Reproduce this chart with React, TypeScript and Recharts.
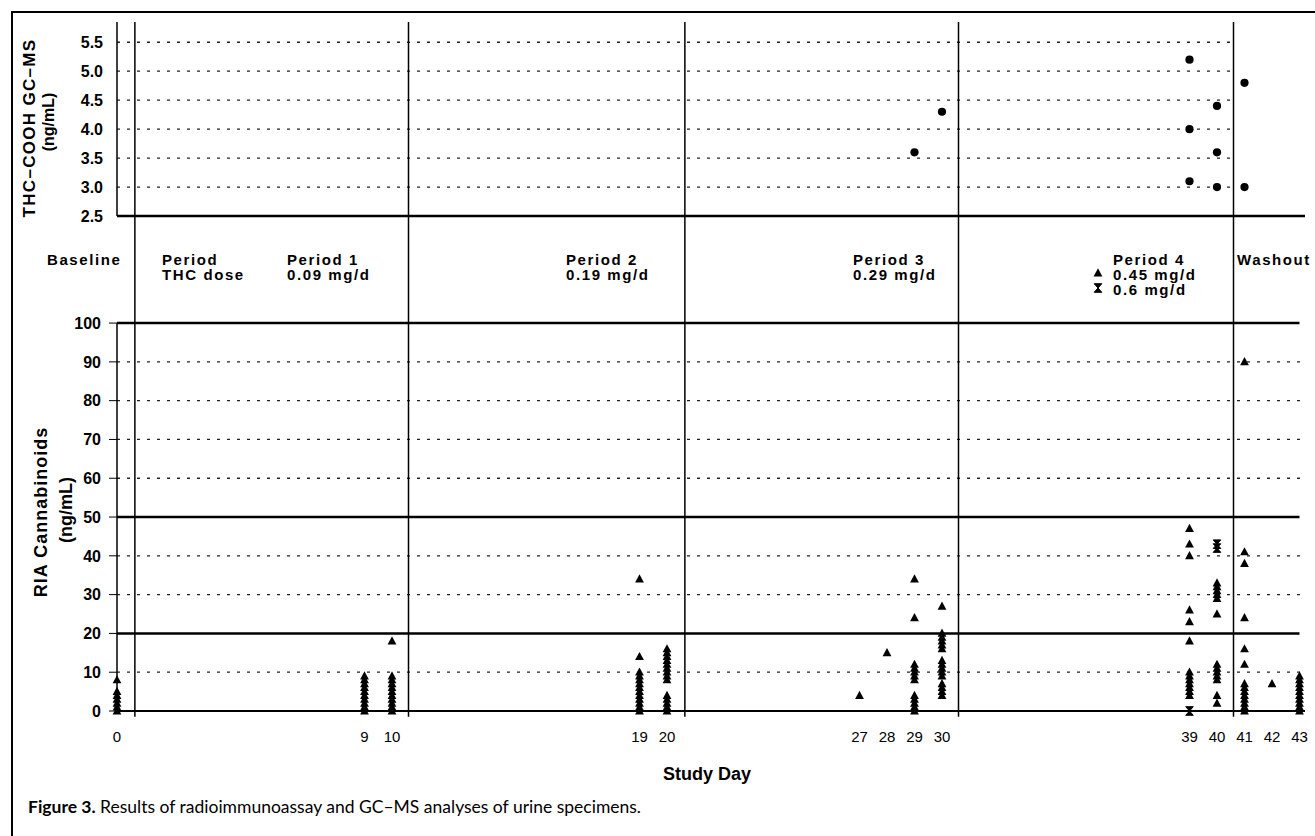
import React from 'react'
import { ScatterChart, Scatter, XAxis, YAxis, ReferenceLine } from 'recharts'

// study day tick labels
const studyDays = [0, 9, 10, 19, 20, 27, 28, 29, 30, 39, 40, 41, 42, 43]

// vertical separators between dosing periods (study days)
const periodBounds = [0.65, 10.6, 20.65, 30.6, 40.6]

// THC-COOH GC-MS (ng/mL)
const gcmsDays = [29, 30, 39, 39, 39, 40, 40, 40, 41, 41]
const gcmsValues = [3.6, 4.3, 5.2, 4.0, 3.1, 4.4, 3.6, 3.0, 4.8, 3.0]
const gcmsTicks = [2.5, 3.0, 3.5, 4.0, 4.5, 5.0, 5.5]
const gcmsGrid = [3.0, 3.5, 4.0, 4.5, 5.0, 5.5]

// RIA cannabinoids (ng/mL), one list per study day
const riaDay0 = [8, 5, 4, 3, 2, 1, 0]
const riaDay9 = [9, 8, 7, 6, 5, 4, 3, 2, 1, 0]
const riaDay10 = [18, 9, 8, 7, 6, 5, 4, 3, 2, 1, 0]
const riaDay19 = [34, 14, 10, 9, 8, 7, 6, 5, 4, 3, 2, 1, 0]
const riaDay20 = [16, 15, 14, 13, 12, 11, 10, 9, 8, 4, 3, 2, 1, 0]
const riaDay27 = [4]
const riaDay28 = [15]
const riaDay29 = [34, 24, 12, 11, 10, 9, 8, 4, 3, 2, 1, 0]
const riaDay30 = [27, 20, 19, 18, 17, 16, 13, 12, 11, 10, 9, 7, 6, 5, 4]
const riaDay39 = [47, 43, 40, 26, 23, 18, 10, 9, 8, 7, 6, 5, 4]
const riaDay40 = [33, 32, 31, 30, 29, 25, 12, 11, 10, 9, 8, 4, 2]
const riaDay41 = [90, 41, 38, 24, 16, 12, 7, 6, 5, 4, 3, 2, 1, 0]
const riaDay42 = [7]
const riaDay43 = [9, 8, 7, 6, 5, 4, 3, 2, 1, 0]

// specimens at 0.6 mg/d
const riaHighDays = [39, 40, 40]
const riaHighValues = [0, 43, 42]

const riaTicks = [0, 10, 20, 30, 40, 50, 60, 70, 80, 90, 100]
const riaDotted = [10, 30, 40, 60, 70, 80, 90]
const riaSolid = [20, 50, 100]

const riaByDay: [number, number[]][] = [
  [0, riaDay0], [9, riaDay9], [10, riaDay10], [19, riaDay19], [20, riaDay20],
  [27, riaDay27], [28, riaDay28], [29, riaDay29], [30, riaDay30], [39, riaDay39],
  [40, riaDay40], [41, riaDay41], [42, riaDay42], [43, riaDay43],
]

const gcmsPoints = gcmsDays.map((d, i) => ({ x: d, y: gcmsValues[i] }))
const riaPoints = riaByDay.flatMap(([d, vals]) => vals.map((v) => ({ x: d, y: v })))
const riaHighPoints = riaHighDays.map((d, i) => ({ x: d, y: riaHighValues[i] }))

const FONT = '"Liberation Sans", Arial, Helvetica, sans-serif'
const X_MAX = 43.2
const RIA_TOP = 127.6

const Dot = (p: any) => <circle cx={p.cx} cy={p.cy} r={4.1} fill="#000" />
const Tri = (p: any) => (
  <path d={`M${p.cx},${p.cy - 4.8}L${p.cx + 4.4},${p.cy + 3.4}L${p.cx - 4.4},${p.cy + 3.4}Z`} fill="#000" />
)
const Glass = (p: any) => (
  <path
    d={`M${p.cx - 3.8},${p.cy - 4.3}H${p.cx + 3.8}L${p.cx - 3.8},${p.cy + 4.3}H${p.cx + 3.8}Z`}
    fill="#000"
    stroke="#000"
    strokeWidth={1}
  />
)

const dotted = { stroke: '#222', strokeWidth: 1.3, strokeDasharray: '3 7' }

function PeriodText({ x, lines }: { x: number; lines: string[] }) {
  return (
    <>
      {lines.map((t, i) => (
        <text key={t} x={x} y={259 + i * 15} dominantBaseline="central" fontSize={15} fontWeight="bold" letterSpacing={1.6}>
          {t}
        </text>
      ))}
    </>
  )
}

export default function App() {
  return (
    <div style={{ position: 'relative', width: 1315, height: 836, background: '#fff', fontFamily: FONT }}>
      <style>{'body{margin:0}'}</style>

      {/* GC-MS panel */}
      <div style={{ position: 'absolute', left: 0, top: 0 }}>
        <ScatterChart width={1315} height={230} margin={{ top: 22, right: 10, bottom: 14, left: 57 }}>
          <XAxis type="number" dataKey="x" domain={[0, X_MAX]} hide />
          <YAxis
            type="number"
            dataKey="y"
            width={60}
            domain={[2.5, 5.85]}
            ticks={gcmsTicks}
            interval={0}
            tickFormatter={(v: number) => v.toFixed(1)}
            axisLine={{ stroke: '#000', strokeWidth: 1.5 }}
            tickLine={false}
            tickSize={0}
            tickMargin={14}
            tick={{ fill: '#000', fontSize: 16, fontWeight: 'bold', fontFamily: FONT }}
          />
          {gcmsGrid.map((v) => (
            <ReferenceLine key={v} segment={[{ x: 0, y: v }, { x: 40.6, y: v }]} {...dotted} />
          ))}
          {periodBounds.map((b) => (
            <ReferenceLine key={b} x={b} stroke="#000" strokeWidth={1.5} />
          ))}
          <ReferenceLine y={2.5} stroke="#000" strokeWidth={2.5} />
          <Scatter data={gcmsPoints} shape={Dot} isAnimationActive={false} />
        </ScatterChart>
      </div>

      {/* RIA panel */}
      <div style={{ position: 'absolute', left: 0, top: 0 }}>
        <ScatterChart width={1315} height={836} margin={{ top: 216, right: 10, bottom: 95, left: 57 }}>
          <XAxis
            type="number"
            dataKey="x"
            domain={[0, X_MAX]}
            ticks={studyDays}
            interval={0}
            height={30}
            axisLine={{ stroke: '#000', strokeWidth: 2 }}
            tickLine={false}
            tickMargin={14}
            tick={{ fill: '#000', fontSize: 15, fontFamily: FONT }}
          />
          <YAxis
            type="number"
            dataKey="y"
            width={60}
            domain={[0, RIA_TOP]}
            ticks={riaTicks}
            interval={0}
            axisLine={false}
            tickLine={{ stroke: '#000' }}
            tickSize={8}
            tickMargin={8}
            tick={{ fill: '#000', fontSize: 16, fontWeight: 'bold', fontFamily: FONT }}
          />
          {riaDotted.map((v) => (
            <ReferenceLine key={v} y={v} {...dotted} />
          ))}
          {riaSolid.map((v) => (
            <ReferenceLine key={v} segment={[{ x: 0, y: v }, { x: 43, y: v }]} stroke="#000" strokeWidth={2.5} />
          ))}
          <ReferenceLine segment={[{ x: 0, y: 0 }, { x: 0, y: 100 }]} stroke="#000" strokeWidth={1.5} />
          {periodBounds.map((b) => (
            <ReferenceLine
              key={b}
              segment={[{ x: b, y: -1.5 }, { x: b, y: RIA_TOP }]}
              ifOverflow="visible"
              stroke="#000"
              strokeWidth={1.5}
            />
          ))}
          <Scatter data={riaPoints} shape={Tri} isAnimationActive={false} />
          <Scatter data={riaHighPoints} shape={Glass} isAnimationActive={false} />
        </ScatterChart>
      </div>

      {/* annotations */}
      <svg
        width={1315}
        height={836}
        style={{ position: 'absolute', left: 0, top: 0, pointerEvents: 'none', fontFamily: FONT }}
      >
        <path d="M12,836V12H1315" fill="none" stroke="#000" strokeWidth={2} />

        <g fontWeight="bold" textAnchor="middle" dominantBaseline="central">
          <text transform="translate(29,128) rotate(-90)" fontSize={17} letterSpacing={1.3}>THC–COOH GC–MS</text>
          <text transform="translate(48,122) rotate(-90)" fontSize={16}>(ng/mL)</text>
          <text transform="translate(41,512) rotate(-90)" fontSize={18} letterSpacing={1}>RIA Cannabinoids</text>
          <text transform="translate(66,510) rotate(-90)" fontSize={18}>(ng/mL)</text>
          <text x={707} y={774} fontSize={18}>Study Day</text>
        </g>

        <PeriodText x={47} lines={['Baseline']} />
        <PeriodText x={162} lines={['Period', 'THC dose']} />
        <PeriodText x={287} lines={['Period 1', '0.09 mg/d']} />
        <PeriodText x={566} lines={['Period 2', '0.19 mg/d']} />
        <PeriodText x={853} lines={['Period 3', '0.29 mg/d']} />
        <PeriodText x={1113} lines={['Period 4', '0.45 mg/d', '0.6 mg/d']} />
        <PeriodText x={1237} lines={['Washout']} />
        <Tri cx={1098} cy={273} />
        <Glass cx={1098} cy={288} />

        <text x={28} y={813} fontSize={17.5} fontFamily="Lato, 'Open Sans', sans-serif">
          <tspan fontWeight="bold">Figure 3.</tspan> Results of radioimmunoassay and GC–MS analyses of urine specimens.
        </text>
      </svg>
    </div>
  )
}
